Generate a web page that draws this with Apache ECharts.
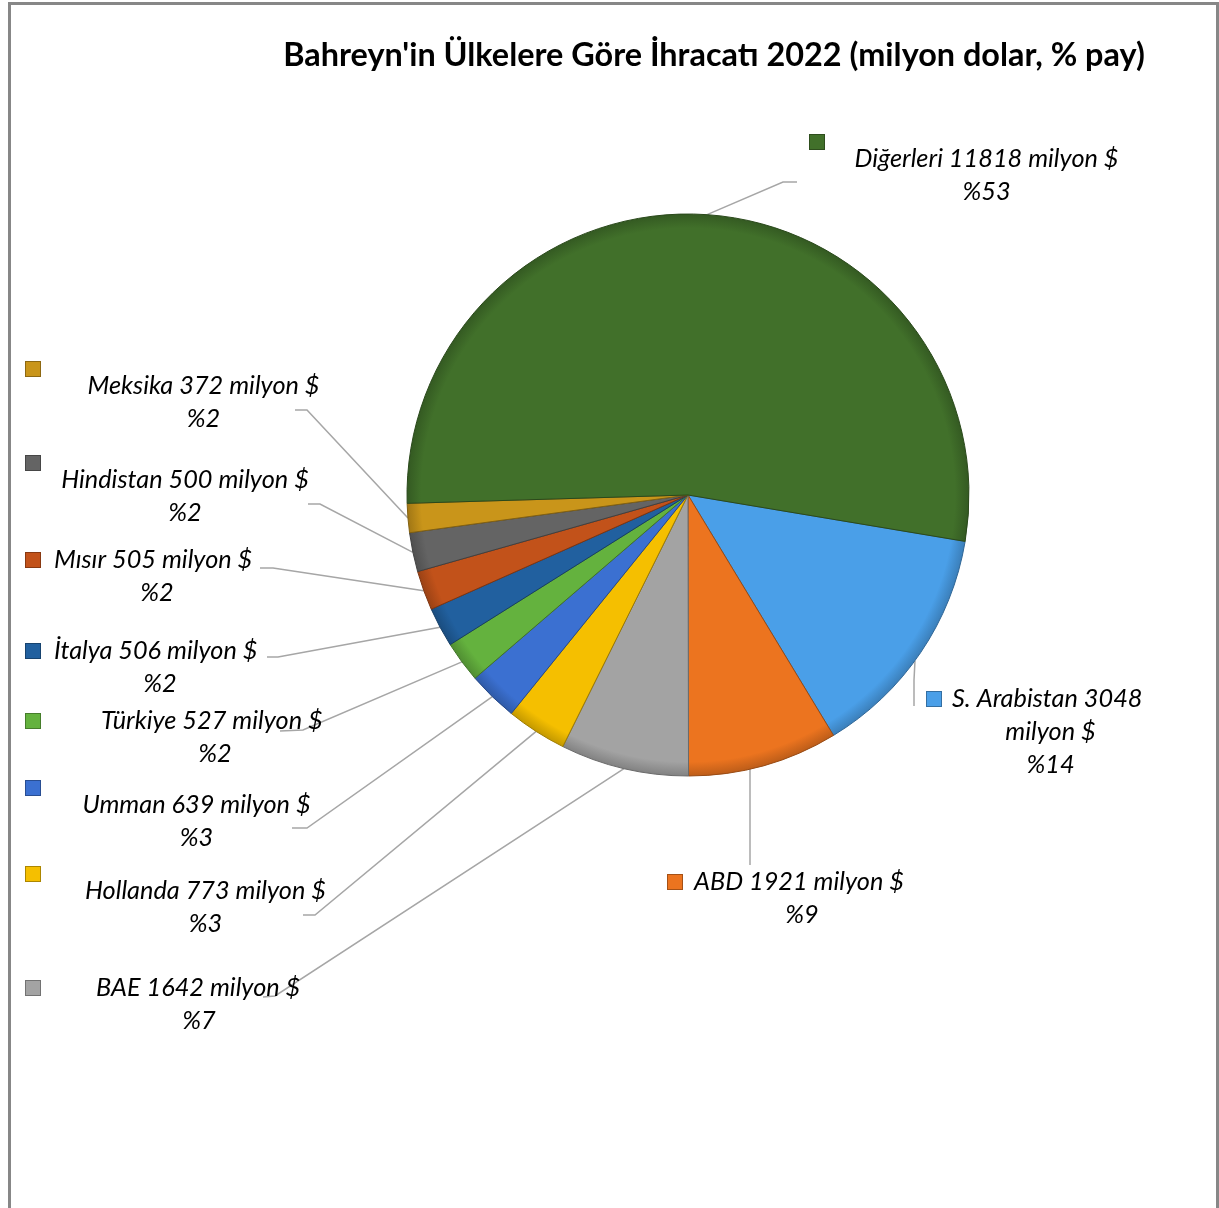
<!DOCTYPE html>
<html><head><meta charset="utf-8">
<script src="https://cdn.jsdelivr.net/npm/echarts@6/dist/echarts.min.js"></script>
<style>html,body{margin:0;padding:0;background:#fff;overflow:hidden}#c{width:1219px;height:1208px}</style>
</head><body><div id="c"></div>
<script>
// ---- data ----
const titleText = "Bahreyn'in Ülkelere Göre İhracatı 2022 (milyon dolar, % pay)";
const countries = ['S. Arabistan','ABD','BAE','Hollanda','Umman','Türkiye','İtalya','Mısır','Hindistan','Meksika','Diğerleri'];
const values    = [3048, 1921, 1642, 773, 639, 527, 506, 505, 500, 372, 11818];
const shares    = [14, 9, 7, 3, 3, 2, 2, 2, 2, 2, 53];
const unit = 'milyon $';

// ---- styles / layout ----
const colors = ['#4A9FE8','#EC741F','#A3A3A3','#F5BF00','#3B70D1','#64B23E','#21609F','#C2521A','#646464','#C9951A','#41702A'];
const CX = 688, CY = 495, R = 281;
const FONT = 'Lato';
const FS = 25.3;
// label layout: x,y = top-left of label block, w = block width, mode: 'above' marker on its own line, 'inline' marker before first line
// p = gap between marker and text (inline), wrap = unit on its own line, el/en = leader elbow and end, sx = leader start x on rim
const LAB = [
  {x:927, y:682.5, w:247, mode:'inline', p:11, wrap:true, el:[914,680], en:[914,706], sx:915},
  {x:668, y:865.5, w:268, mode:'inline', p:12, el:[750,800], en:[750,865], sx:750},
  {x:26,  y:971.5, w:346, mode:'inline', p:56, el:[275,996], en:[263,997]},
  {x:26,  y:873.5, w:359, mode:'above',  el:[315,915], en:[303,915]},
  {x:26,  y:787.5, w:341, mode:'above',  el:[307,828], en:[292,828]},
  {x:26,  y:704.5, w:378, mode:'inline', p:61, el:[303,730], en:[280,731]},
  {x:26,  y:634.5, w:268, mode:'inline', p:14, el:[278,657], en:[267,657]},
  {x:26,  y:543.5, w:262, mode:'inline', p:14, el:[273,568], en:[260,568]},
  {x:26,  y:462.5, w:318, mode:'above',  el:[320,504], en:[308,504]},
  {x:26,  y:368.5, w:355, mode:'above',  el:[307,410], en:[295,410]},
  {x:810, y:141.5, w:353, mode:'above',  el:[783,182], en:[797,182]}
];

function shade(hex, f) {
  const n = parseInt(hex.slice(1), 16);
  const r = Math.round(((n >> 16) & 255) * f), g = Math.round(((n >> 8) & 255) * f), b = Math.round((n & 255) * f);
  return 'rgb(' + Math.min(255,r) + ',' + Math.min(255,g) + ',' + Math.min(255,b) + ')';
}

const rich = {
  c: {fontFamily: FONT, fontStyle: 'italic', fontSize: FS, color: '#000', lineHeight: 33, align: 'center'}
};
countries.forEach((_, i) => {
  const L = LAB[i];
  rich['m' + i] = {width: 14, height: 14, lineHeight: L.mode === 'above' ? 1 : 33, align: 'left',
    backgroundColor: colors[i], borderColor: shade(colors[i], 0.7), borderWidth: 1};
  rich['g' + i] = {fontFamily: FONT, fontStyle: 'italic', fontSize: FS, color: '#000', lineHeight: 33,
    align: 'left', padding: [0, 0, 0, L.p || 0]};
});

function labelLines(i) {
  const L = LAB[i];
  const lines = L.wrap ? [countries[i] + ' ' + values[i], unit] : [countries[i] + ' ' + values[i] + ' ' + unit];
  lines.push('%' + shares[i]);
  return lines;
}

const data = countries.map((name, i) => ({
  name, value: values[i],
  itemStyle: {
    color: {type: 'radial', x: CX, y: CY, r: R, global: true,
      colorStops: [{offset: 0, color: colors[i]}, {offset: 0.95, color: colors[i]}, {offset: 1, color: shade(colors[i], 0.8)}]},
    borderColor: shade(colors[i], 0.65), borderWidth: 1
  },
  label: {width: LAB[i].w}
}));

const chart = echarts.init(document.getElementById('c'), null, {renderer: 'canvas'});
chart.setOption({
  animation: false,
  backgroundColor: '#fff',
  title: {
    text: titleText, left: 709, top: 35, textAlign: 'center',
    textStyle: {fontFamily: FONT, fontWeight: 'bold', fontSize: 32.4, color: '#000'}
  },
  graphic: [{type: 'rect', shape: {x: 9.5, y: 3.5, width: 1208, height: 1300},
    style: {fill: 'none', stroke: '#878787', lineWidth: 3}, silent: true, z: 100}],
  series: [{
    type: 'pie', center: [CX, CY], radius: R, startAngle: -9.5, clockwise: true,
    avoidLabelOverlap: false, silent: true,
    label: {
      show: true, position: 'outside', overflow: 'none',
      formatter: p => {
        const i = p.dataIndex, L = LAB[i], lines = labelLines(i);
        if (L.mode === 'above') return '{m' + i + '|}\n' + lines.map(s => '{c|' + s + '}').join('\n');
        return '{m' + i + '|}{g' + i + '|' + lines[0] + '}\n' + lines.slice(1).map(s => '{c|' + s + '}').join('\n');
      },
      rich
    },
    labelLine: {show: true, length: 10, length2: 10, smooth: false, lineStyle: {color: '#A6A6A6', width: 1.5}},
    labelLayout: params => {
      const i = params.dataIndex, L = LAB[i];
      let start;
      if (L.sx != null) start = [L.sx, CY + Math.sqrt(R * R - (L.sx - CX) * (L.sx - CX))];
      else if (params.labelLinePoints) start = params.labelLinePoints[0];
      else start = L.el;
      return {x: L.x, y: L.y, align: 'left', verticalAlign: 'top', labelLinePoints: [start, L.el, L.en]};
    },
    data
  }]
});
</script></body></html>
